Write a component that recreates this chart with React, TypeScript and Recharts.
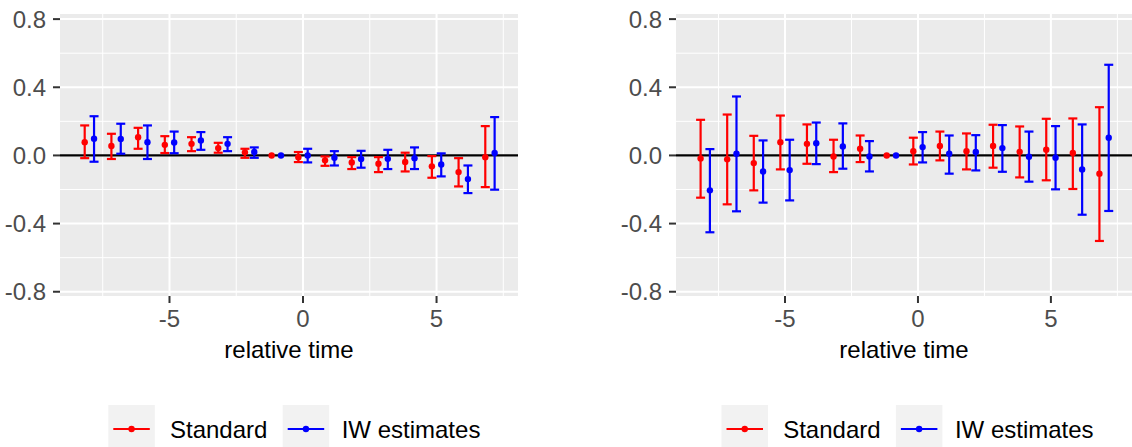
import { ScatterChart, Scatter, XAxis, YAxis, CartesianGrid, ErrorBar, ReferenceLine } from 'recharts'

// relative time periods (-1 is the reference period)
const times = [-8, -7, -6, -5, -4, -3, -2, -1, 0, 1, 2, 3, 4, 5, 6, 7]

// left panel
const leftStdEst = [0.078, 0.055, 0.107, 0.062, 0.068, 0.043, 0.018, 0, -0.01, -0.029, -0.041, -0.049, -0.039, -0.064, -0.098, -0.01]
const leftStdLo = [-0.016, -0.021, 0.039, 0.014, 0.025, 0.016, -0.014, null, -0.039, -0.061, -0.08, -0.098, -0.094, -0.131, -0.182, -0.186]
const leftStdHi = [0.176, 0.127, 0.162, 0.113, 0.107, 0.074, 0.039, null, 0.02, -0.006, -0.01, -0.01, 0.016, -0.004, -0.016, 0.172]
const leftIwEst = [0.098, 0.096, 0.078, 0.076, 0.088, 0.068, 0.02, 0, 0.0, -0.014, -0.021, -0.02, -0.016, -0.053, -0.139, 0.014]
const leftIwLo = [-0.037, 0.01, -0.021, 0.013, 0.033, 0.025, -0.014, null, -0.041, -0.059, -0.072, -0.08, -0.08, -0.123, -0.221, -0.201]
const leftIwHi = [0.23, 0.186, 0.176, 0.14, 0.137, 0.107, 0.047, null, 0.039, 0.025, 0.027, 0.033, 0.047, 0.012, -0.059, 0.225]

// right panel
const rightStdEst = [-0.018, -0.023, -0.045, 0.078, 0.068, -0.006, 0.039, 0, 0.025, 0.055, 0.025, 0.055, 0.021, 0.033, 0.014, -0.107]
const rightStdLo = [-0.248, -0.287, -0.205, -0.082, -0.049, -0.098, -0.039, null, -0.053, -0.029, -0.082, -0.072, -0.129, -0.146, -0.197, -0.502]
const rightStdHi = [0.209, 0.24, 0.115, 0.234, 0.182, 0.092, 0.117, null, 0.104, 0.14, 0.129, 0.18, 0.17, 0.215, 0.217, 0.283]
const rightIwEst = [-0.205, 0.01, -0.094, -0.086, 0.072, 0.053, -0.006, 0, 0.049, 0.01, 0.02, 0.043, -0.008, -0.014, -0.082, 0.104]
const rightIwLo = [-0.451, -0.328, -0.277, -0.264, -0.051, -0.078, -0.094, null, -0.041, -0.107, -0.088, -0.096, -0.154, -0.199, -0.348, -0.326]
const rightIwHi = [0.037, 0.346, 0.088, 0.092, 0.193, 0.188, 0.084, null, 0.137, 0.117, 0.119, 0.178, 0.14, 0.172, 0.182, 0.532]

const xTicks = [-5, 0, 5]
const xMinor = [-7.5, -2.5, 2.5, 7.5]
const yTicks = [-0.8, -0.4, 0, 0.4, 0.8]
const yMinor = [-0.6, -0.2, 0.2, 0.6]
const seriesNames = ['Standard', 'IW estimates']

const RED = '#FF0000'
const BLUE = '#0000FF'
const FONT = '"Liberation Sans", Arial, sans-serif'
const DODGE = 0.175

type Pt = { x: number; y: number; err?: number[] }

function buildSeries(est: number[], lo: (number | null)[], hi: (number | null)[], shift: number) {
  const bars: Pt[] = []
  const refs: Pt[] = []
  times.forEach((t, i) => {
    const l = lo[i]
    const h = hi[i]
    if (l == null || h == null) refs.push({ x: t + shift, y: est[i] })
    else bars.push({ x: t + shift, y: est[i], err: [est[i] - l, h - est[i]] })
  })
  return { bars, refs }
}

const dot = (color: string) => (p: any) => <circle cx={p.cx} cy={p.cy} r={3.2} fill={color} />

interface PanelProps {
  left: number
  yAxisWidth: number
  marginRight: number
  std: ReturnType<typeof buildSeries>
  iw: ReturnType<typeof buildSeries>
}

function Panel({ left, yAxisWidth, marginRight, std, iw }: PanelProps) {
  return (
    <div style={{ position: 'absolute', left, top: 0 }}>
      <ScatterChart
        width={566}
        height={447}
        margin={{ top: 14, right: marginRight, bottom: 0, left: 0 }}
        style={{ fontFamily: FONT }}
      >
        <CartesianGrid
          fill="#EBEBEB"
          stroke="#FFFFFF"
          strokeWidth={1}
          horizontalValues={yMinor}
          verticalValues={xMinor}
        />
        <CartesianGrid stroke="#FFFFFF" strokeWidth={2} horizontalValues={yTicks} verticalValues={xTicks} />
        <XAxis
          type="number"
          dataKey="x"
          domain={[-9.1, 8.05]}
          allowDataOverflow
          ticks={xTicks}
          interval={0}
          height={151}
          tickSize={7}
          tickMargin={7}
          axisLine={false}
          tickLine={{ stroke: '#333333', strokeWidth: 2 }}
          tick={{ fill: '#4D4D4D', fontSize: 24, fontFamily: FONT }}
          label={{ value: 'relative time', position: 'insideTop', offset: 45, fill: '#000000', fontSize: 24, fontFamily: FONT }}
        />
        <YAxis
          type="number"
          dataKey="y"
          domain={[-0.825, 0.83]}
          allowDataOverflow
          ticks={yTicks}
          interval={0}
          width={yAxisWidth}
          tickSize={7}
          tickMargin={7}
          axisLine={false}
          tickLine={{ stroke: '#333333', strokeWidth: 2 }}
          tick={{ fill: '#4D4D4D', fontSize: 24, fontFamily: FONT }}
          tickFormatter={(v: number) => v.toFixed(1)}
        />
        <ReferenceLine y={0} stroke="#000000" strokeWidth={2.2} />
        <Scatter data={std.bars} shape={dot(RED)} isAnimationActive={false}>
          <ErrorBar dataKey="err" direction="y" width={4.5} stroke={RED} strokeWidth={2.2} isAnimationActive={false} />
        </Scatter>
        <Scatter data={std.refs} shape={dot(RED)} isAnimationActive={false} />
        <Scatter data={iw.bars} shape={dot(BLUE)} isAnimationActive={false}>
          <ErrorBar dataKey="err" direction="y" width={4.5} stroke={BLUE} strokeWidth={2.2} isAnimationActive={false} />
        </Scatter>
        <Scatter data={iw.refs} shape={dot(BLUE)} isAnimationActive={false} />
      </ScatterChart>
    </div>
  )
}

function LegendKeys({ x }: { x: number }) {
  const colors = [RED, BLUE]
  const boxX = [0, 174.4]
  const textX = [61.7, 233.4]
  return (
    <g transform={`translate(${x},0)`}>
      {seriesNames.map((name, i) => (
        <g key={name}>
          <rect x={boxX[i]} y={405} width={46.5} height={42} fill="#F2F2F2" />
          <line x1={boxX[i] + 5} x2={boxX[i] + 41.5} y1={429} y2={429} stroke={colors[i]} strokeWidth={2.2} />
          <circle cx={boxX[i] + 23.25} cy={429} r={3.2} fill={colors[i]} />
          <text x={textX[i]} y={437.5} fontSize={24} fontFamily={FONT} fill="#000000">
            {name}
          </text>
        </g>
      ))}
    </g>
  )
}

export default function App() {
  const leftStd = buildSeries(leftStdEst, leftStdLo, leftStdHi, -DODGE)
  const leftIw = buildSeries(leftIwEst, leftIwLo, leftIwHi, DODGE)
  const rightStd = buildSeries(rightStdEst, rightStdLo, rightStdHi, -DODGE)
  const rightIw = buildSeries(rightIwEst, rightIwLo, rightIwHi, DODGE)

  return (
    <div style={{ position: 'absolute', left: 0, top: 0, width: 1132, height: 447, background: '#FFFFFF', overflow: 'hidden' }}>
      <Panel left={0} yAxisWidth={60} marginRight={48} std={leftStd} iw={leftIw} />
      <Panel left={566} yAxisWidth={110} marginRight={0} std={rightStd} iw={rightIw} />
      <svg width={1132} height={447} style={{ position: 'absolute', left: 0, top: 0, pointerEvents: 'none' }}>
        <LegendKeys x={108.3} />
        <LegendKeys x={721.5} />
      </svg>
    </div>
  )
}
